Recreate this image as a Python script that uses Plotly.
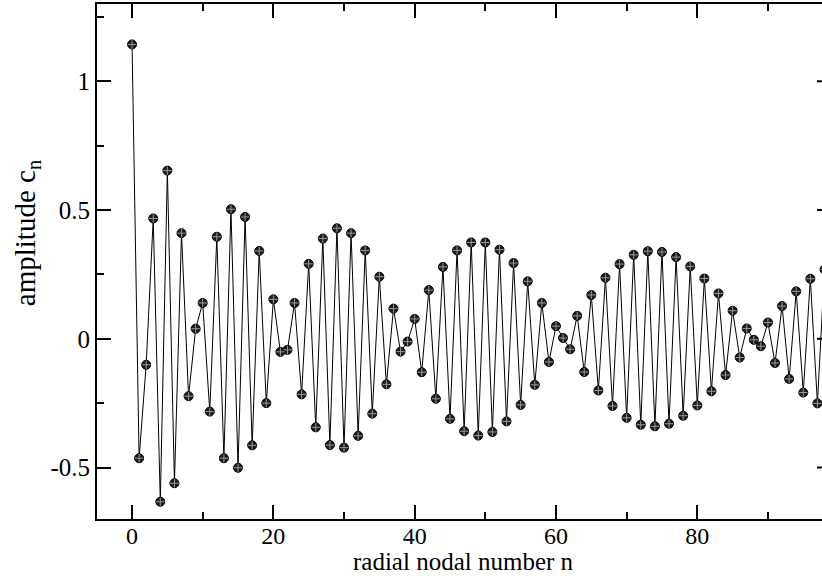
import plotly.graph_objects as go

n_values = list(range(0, 99))
amplitude = [
    1.143, -0.464, -0.101, 0.467, -0.633, 0.653, -0.561, 0.410, -0.223, 0.039,
    0.139, -0.283, 0.396, -0.464, 0.503, -0.501, 0.473, -0.414, 0.341, -0.250,
    0.153, -0.051, -0.043, 0.139, -0.216, 0.291, -0.344, 0.389, -0.413, 0.429,
    -0.423, 0.410, -0.377, 0.343, -0.291, 0.241, -0.177, 0.117, -0.050, -0.011,
    0.077, -0.130, 0.189, -0.233, 0.279, -0.311, 0.343, -0.359, 0.374, -0.376,
    0.374, -0.362, 0.346, -0.321, 0.294, -0.257, 0.223, -0.179, 0.139, -0.090,
    0.049, 0.003, -0.041, 0.089, -0.129, 0.170, -0.201, 0.237, -0.261, 0.290,
    -0.307, 0.326, -0.334, 0.340, -0.340, 0.337, -0.330, 0.317, -0.299, 0.281,
    -0.259, 0.234, -0.204, 0.176, -0.141, 0.109, -0.073, 0.040, -0.004, -0.029,
    0.063, -0.094, 0.127, -0.156, 0.184, -0.209, 0.233, -0.251, 0.269,
]

y_tick_vals = [-0.5, 0, 0.5, 1]
y_tick_text = ["-0.5", "0", "0.5", "1"]
x_tick_vals = [0, 20, 40, 60, 80]
x_tick_text = ["0", "20", "40", "60", "80"]
x_title = "radial nodal number n"
y_title = "amplitude c<sub>n</sub>"

FONT = "Liberation Serif"

fig = go.Figure()
fig.add_trace(go.Scatter(
    x=n_values, y=amplitude, mode="lines+markers",
    line=dict(color="black", width=1),
    marker=dict(symbol="circle", size=9, color="#1c1c1c",
                line=dict(color="black", width=1)),
    showlegend=False, hoverinfo="skip",
))
fig.add_trace(go.Scatter(
    x=n_values, y=amplitude, mode="markers",
    marker=dict(symbol="cross-thin", size=6, color="#9a9a9a",
                line=dict(color="#9a9a9a", width=1)),
    showlegend=False, hoverinfo="skip",
))

# short stubs of the right-hand axis ticks visible at the edge
shapes = []
for v in y_tick_vals:
    shapes.append(dict(type="line", xref="paper", yref="y",
                       x0=0.9931, x1=1.0, y0=v, y1=v,
                       line=dict(color="black", width=2)))

annotations = [
    dict(text=x_title, xref="paper", yref="paper", x=0.5, y=0,
         xanchor="center", yanchor="middle", xshift=4, yshift=-42,
         showarrow=False, font=dict(family=FONT, size=25, color="black")),
    dict(text=y_title, xref="paper", yref="paper", x=0, y=0.555,
         xanchor="center", yanchor="middle", xshift=-70, textangle=-90,
         showarrow=False, font=dict(family=FONT, size=29, color="black")),
]

fig.update_layout(
    width=822, height=576,
    margin=dict(l=97, r=0, t=4, b=57),
    paper_bgcolor="white", plot_bgcolor="white",
    font=dict(family=FONT, size=24, color="black"),
    shapes=shapes,
    annotations=annotations,
    xaxis=dict(
        range=[-4.96, 97.65],
        tickmode="array", tickvals=x_tick_vals, ticktext=x_tick_text,
        ticks="inside", ticklen=14, tickwidth=2, tickcolor="black",
        minor=dict(dtick=10, tick0=0, ticks="inside", ticklen=7,
                   tickwidth=2, tickcolor="black", showgrid=False),
        showline=True, linecolor="black", linewidth=2, mirror="ticks",
        showgrid=False, zeroline=False,
        tickfont=dict(family=FONT, size=24),
        ticklabelstandoff=-6,
    ),
    yaxis=dict(
        range=[-0.7, 1.3],
        tickmode="array", tickvals=y_tick_vals, ticktext=y_tick_text,
        ticks="inside", ticklen=14, tickwidth=2, tickcolor="black",
        minor=dict(dtick=0.25, tick0=0, ticks="inside", ticklen=7,
                   tickwidth=2, tickcolor="black", showgrid=False),
        showline=True, linecolor="black", linewidth=2, mirror=False,
        showgrid=False, zeroline=False,
        tickfont=dict(family=FONT, size=25),
        ticklabelstandoff=0,
    ),
)

fig.write_html("out.html")
